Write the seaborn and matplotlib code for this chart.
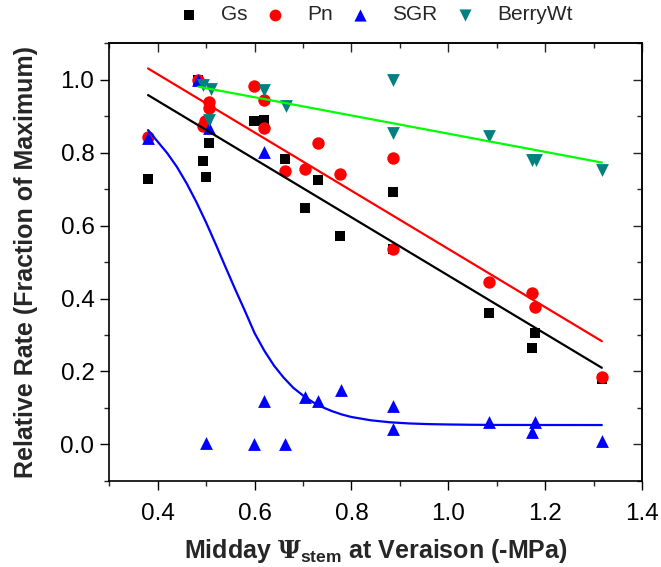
import matplotlib
matplotlib.use("Agg")
import matplotlib.pyplot as plt
import seaborn as sns
import numpy as np
import pandas as pd

sns.set_theme(style="ticks")
plt.rcParams['font.family'] = ['Liberation Sans', 'DejaVu Sans']
plt.rcParams['mathtext.fontset'] = 'custom'
plt.rcParams['mathtext.rm'] = 'Liberation Sans:bold'
plt.rcParams['mathtext.it'] = 'Liberation Sans:bold'
plt.rcParams['mathtext.bf'] = 'DejaVu Serif:bold'

# ---- data ----
gs_x = [0.38, 0.484, 0.494, 0.500, 0.506, 0.598, 0.619, 0.663, 0.705, 0.731, 0.777,
        0.885, 0.885, 1.083, 1.173, 1.179, 1.317]
gs_y = [0.728, 1.0, 0.778, 0.734, 0.826, 0.887, 0.889, 0.782, 0.649, 0.725, 0.572,
        0.691, 0.535, 0.361, 0.265, 0.306, 0.180]

pn_x = [0.38, 0.484, 0.494, 0.498, 0.506, 0.506, 0.598, 0.619, 0.619, 0.663, 0.705,
        0.731, 0.777, 0.885, 0.885, 1.083, 1.173, 1.179, 1.317]
pn_y = [0.842, 1.0, 0.874, 0.888, 0.939, 0.922, 0.984, 0.945, 0.869, 0.750, 0.755,
        0.826, 0.741, 0.786, 0.535, 0.444, 0.416, 0.377, 0.186]

sgr_x = [0.38, 0.484, 0.500, 0.506, 0.598, 0.619, 0.619, 0.663, 0.705, 0.731, 0.779,
         0.885, 0.885, 1.083, 1.173, 1.180, 1.317]
sgr_y = [0.840, 1.0, 0.003, 0.867, 0.0, 0.803, 0.120, 0.0, 0.131, 0.118, 0.148,
         0.104, 0.042, 0.060, 0.033, 0.060, 0.008]

bw_x = [0.494, 0.509, 0.506, 0.620, 0.664, 0.885, 0.885, 1.083, 1.173, 1.181, 1.317]
bw_y = [0.986, 0.975, 0.890, 0.972, 0.927, 1.0, 0.853, 0.846, 0.780, 0.780, 0.753]

# fitted lines
gs_fit_x = [0.38, 1.317]
gs_fit_y = [0.958, 0.210]
pn_fit_x = [0.38, 1.317]
pn_fit_y = [1.031, 0.283]
bw_fit_x = [0.484, 1.317]
bw_fit_y = [0.981, 0.773]
sgr_fit_x = [0.38, 0.40, 0.42, 0.44, 0.46, 0.48, 0.50, 0.52, 0.54, 0.56, 0.58, 0.60,
             0.62, 0.64, 0.66, 0.68, 0.70, 0.72, 0.74, 0.76, 0.78, 0.80, 0.84, 0.88,
             0.92, 0.96, 1.00, 1.05, 1.10, 1.20, 1.317]
sgr_fit_y = [0.862, 0.830, 0.798, 0.760, 0.715, 0.664, 0.608, 0.548, 0.486, 0.425,
             0.366, 0.305, 0.257, 0.216, 0.183, 0.155, 0.134, 0.116, 0.102, 0.091,
             0.082, 0.075, 0.066, 0.0605, 0.0573, 0.0555, 0.0545, 0.0537, 0.0533,
             0.0531, 0.053]

series = ["Gs", "Pn", "SGR", "BerryWt"]
xs = [gs_x, pn_x, sgr_x, bw_x]
ys = [gs_y, pn_y, sgr_y, bw_y]
marker_of = {"Gs": "s", "Pn": "o", "SGR": "^", "BerryWt": "v"}
color_of = {"Gs": "#000000", "Pn": "#ff0000", "SGR": "#0000ff", "BerryWt": "#008080"}
size_of = {"Gs": 58, "Pn": 80, "SGR": 85, "BerryWt": 85}
fits = {"Gs": (gs_fit_x, gs_fit_y, "#000000"),
        "Pn": (pn_fit_x, pn_fit_y, "#ff0000"),
        "SGR": (sgr_fit_x, sgr_fit_y, "#0000ff"),
        "BerryWt": (bw_fit_x, bw_fit_y, "#00ff00")}

fig = plt.figure(figsize=(6.61, 5.67), dpi=100)
ax = fig.add_axes([0.1654, 0.152, 0.9713 - 0.1654, 0.9236 - 0.152])

for name, x, y in zip(series, xs, ys):
    df = pd.DataFrame({"x": x, "y": y})
    sns.scatterplot(data=df, x="x", y="y", marker=marker_of[name], color=color_of[name],
                    s=size_of[name], linewidth=0, ax=ax, label=name, zorder=3)

for name in series:
    fx, fy, c = fits[name]
    dfl = pd.DataFrame({"x": fx, "y": fy})
    sns.lineplot(data=dfl, x="x", y="y", color=c, lw=1.6, ax=ax, legend=False,
                 estimator=None, sort=False, zorder=4)

ax.set_xlim(0.3, 1.4)
ax.set_ylim(-0.1, 1.1)
ax.set_xticks(np.arange(0.4, 1.41, 0.2))
ax.set_xticks(np.arange(0.3, 1.41, 0.1), minor=True)
ax.set_yticks(np.arange(0.0, 1.01, 0.2))
ax.set_yticks(np.arange(-0.1, 1.11, 0.1), minor=True)
ax.xaxis.set_major_formatter(matplotlib.ticker.FormatStrFormatter('%.1f'))
ax.yaxis.set_major_formatter(matplotlib.ticker.FormatStrFormatter('%.1f'))

for s in ax.spines.values():
    s.set_visible(True)
    s.set_linewidth(1.2)
    s.set_color("black")

ax.tick_params(which='major', direction='out', length=6.7, width=1.0, labelsize=17.5,
               colors='black', pad=4)
ax.tick_params(which='minor', direction='out', length=3.3, width=1.0)
ax.tick_params(axis='x', which='major', pad=9)

secx = ax.secondary_xaxis('top')
secx.set_xticks(np.arange(0.4, 1.41, 0.2))
secx.set_xticks(np.arange(0.3, 1.41, 0.1), minor=True)
secx.tick_params(which='major', direction='in', length=6.7, width=1.0, labeltop=False)
secx.tick_params(which='minor', direction='in', length=3.3, width=1.0)
secx.spines['top'].set_linewidth(1.2)

secy = ax.secondary_yaxis('right')
secy.set_yticks(np.arange(0.0, 1.01, 0.2))
secy.set_yticks(np.arange(-0.1, 1.11, 0.1), minor=True)
secy.tick_params(which='major', direction='in', length=6.7, width=1.0, labelright=False)
secy.tick_params(which='minor', direction='in', length=3.3, width=1.0)
secy.spines['right'].set_linewidth(1.2)

ax.set_xlabel(r'Midday $\mathbf{\Psi}_{\mathrm{stem}}$ at Veraison (-MPa)', fontsize=18,
              fontweight='bold', labelpad=9)
ax.set_ylabel('Relative Rate (Fraction of Maximum)', fontsize=18, fontweight='bold',
              labelpad=16)

leg = ax.legend(loc='center', bbox_to_anchor=(0.5, 1.065), ncol=4, frameon=False,
                fontsize=15, handlelength=1.0, handletextpad=1.05, columnspacing=0.8,
                markerscale=0.95, borderaxespad=0)

fig.savefig("out.png", dpi=100)
